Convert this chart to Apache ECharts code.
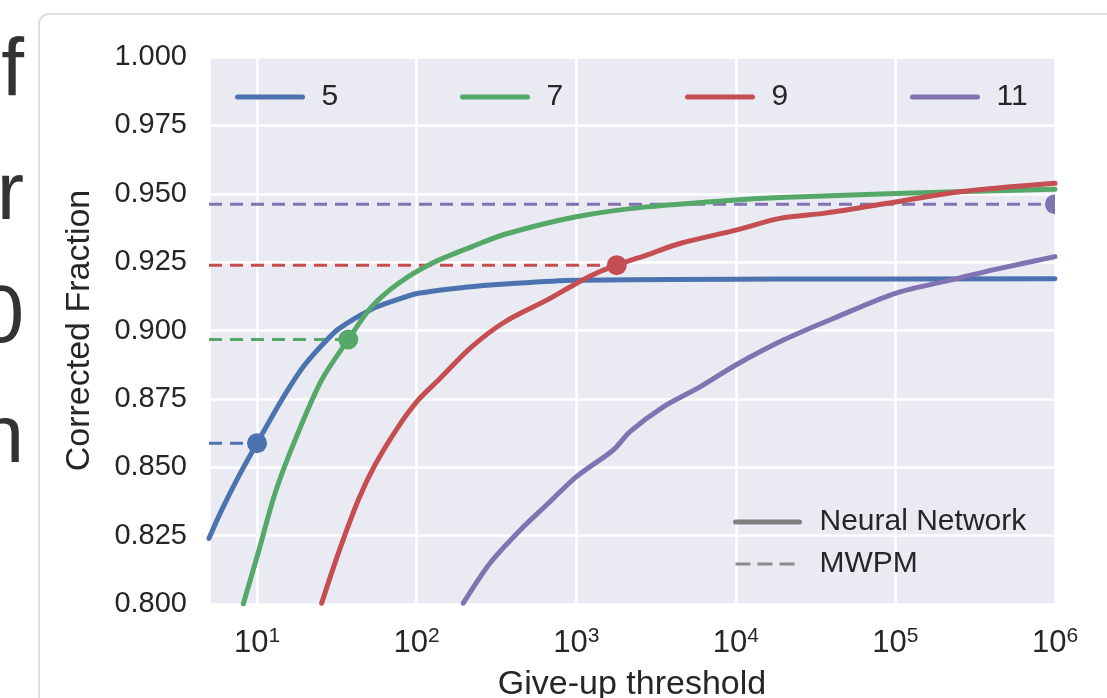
<!DOCTYPE html>
<html>
<head>
<meta charset="utf-8">
<script src="https://cdn.jsdelivr.net/npm/echarts@6/dist/echarts.min.js"></script>
<style>
html, body { margin: 0; padding: 0; background: #fff; }
#chart { width: 1107px; height: 698px; }
</style>
</head>
<body>
<div id="chart"></div>
<script>
// code distances and seaborn "deep" colours
var sizes = ['5', '7', '9', '11'];
var colors = ['#4C72B0', '#55A868', '#C44E52', '#8172B2'];

// neural network: give-up threshold -> corrected fraction
var thr5 = [5, 6.01, 7.64, 10, 13.9, 16.9, 20, 25.4, 32.3, 52.3, 73.3, 102.5, 201, 358, 1000, 18900, 1e6];
var nn5  = [0.824, 0.8344, 0.8465, 0.8588, 0.8735, 0.8815, 0.8876, 0.8945, 0.9005, 0.9078, 0.9110, 0.9136, 0.9158, 0.9170, 0.9184, 0.9188, 0.9189];

var thr7 = [8.2, 10.2, 12.97, 17.3, 25.4, 37.3, 52.3, 76.7, 124, 221, 358, 1000, 2765, 1e4, 18900, 1e5, 1e6];
var nn7  = [0.800, 0.8190, 0.8405, 0.8599, 0.8819, 0.8967, 0.9087, 0.9172, 0.9245, 0.9306, 0.9352, 0.9416, 0.9452, 0.9477, 0.9486, 0.9501, 0.9516];

var thr9 = [25.4, 32.3, 43.1, 54.8, 76.7, 102.5, 137, 221, 358, 653, 1000, 1343, 1795, 2765, 4467, 1e4, 18900, 37150, 1e5, 254000, 1e6];
var nn9  = [0.8003, 0.8185, 0.8380, 0.8508, 0.8648, 0.8746, 0.8819, 0.8940, 0.9032, 0.9111, 0.9172, 0.9210, 0.9239, 0.9276, 0.9318, 0.9367, 0.9410, 0.9430, 0.9470, 0.9507, 0.9538];

var thr11 = [196, 288, 445, 685, 1000, 1708, 2173, 3516, 5970, 1e4, 19860, 40800, 1e5, 219800, 452000, 1e6];
var nn11  = [0.8003, 0.8149, 0.8270, 0.8374, 0.8465, 0.8563, 0.8630, 0.8721, 0.8794, 0.8874, 0.8965, 0.9044, 0.9136, 0.9184, 0.9227, 0.9270];

// MWPM level and the threshold where it is marked
var mwpm    = [0.8588, 0.8967, 0.9239, 0.9462];
var mwpmThr = [10, 37.3, 1795, 1e6];

var xMin = 5, xMax = 1e6;
var yMin = 0.8, yMax = 1.0, yStep = 0.025;

var thrs = [thr5, thr7, thr9, thr11];
var nns = [nn5, nn7, nn9, nn11];

var font = 'Liberation Sans';
var ink = '#262626';

var series = [];
// dashed MWPM levels, under the curves
sizes.forEach(function (s, i) {
    series.push({
        name: 'MWPM ' + s,
        type: 'line',
        symbol: 'none',
        z: 2,
        color: colors[i],
        lineStyle: { width: 3, type: [13, 8], color: colors[i] },
        data: [[xMin, mwpm[i]], [mwpmThr[i], mwpm[i]]]
    });
});
// neural network curves
sizes.forEach(function (s, i) {
    series.push({
        name: s,
        type: 'line',
        symbol: 'none',
        smooth: 0.3,
        z: 3,
        color: colors[i],
        lineStyle: { width: 5, color: colors[i], cap: 'round', join: 'round' },
        data: thrs[i].map(function (t, k) { return [t, nns[i][k]]; })
    });
});
// dots where MWPM is marked
series.push({
    name: 'dots',
    type: 'custom',
    clip: true,
    z: 4,
    data: mwpm.map(function (v, i) { return [mwpmThr[i], v, i]; }),
    renderItem: function (params, api) {
        var p = api.coord([api.value(0), api.value(1)]);
        return {
            type: 'circle',
            shape: { cx: p[0], cy: p[1], r: 10 },
            style: { fill: colors[api.value(2)] }
        };
    }
});
// style legend entries
series.push({
    name: 'Neural Network', type: 'line', symbol: 'none', color: '#808080',
    lineStyle: { width: 5, color: '#808080', cap: 'round' }, data: []
});
series.push({
    name: 'MWPM', type: 'line', symbol: 'none', color: '#8c8c8c',
    lineStyle: { width: 3, color: '#8c8c8c', type: [15, 7] }, data: []
});

var legends = sizes.map(function (s, i) {
    return {
        data: [{ name: s, lineStyle: { width: 5 } }],
        left: 235 + 225 * i,
        top: 82,
        padding: 0,
        itemWidth: 65,
        itemHeight: 5,
        itemStyle: { opacity: 0 },
        textStyle: { fontSize: 30, color: ink, fontFamily: font, padding: [0, 0, 0, 14] }
    };
});
legends.push({
    orient: 'vertical',
    left: 733,
    top: 507,
    padding: 0,
    itemWidth: 64,
    itemHeight: 5,
    itemGap: 12,
    itemStyle: { opacity: 0 },
    data: [
        { name: 'Neural Network', lineStyle: { width: 5 } },
        { name: 'MWPM', lineStyle: { width: 3, type: [15, 7] } }
    ],
    textStyle: { fontSize: 30, color: ink, fontFamily: font, padding: [0, 0, 0, 15] }
});

var chart = echarts.init(document.getElementById('chart'));
chart.setOption({
    animation: false,
    backgroundColor: '#fff',
    textStyle: { fontFamily: font },
    grid: {
        left: 209, right: 52, top: 57, bottom: 94,
        outerBoundsMode: 'none',
        containLabel: false,
        show: true, backgroundColor: '#EAEAF2', borderWidth: 0
    },
    legend: legends,
    xAxis: {
        type: 'log',
        logBase: 10,
        min: xMin,
        max: xMax,
        name: 'Give-up threshold',
        nameLocation: 'middle',
        nameGap: 64,
        nameTextStyle: { fontSize: 34, color: ink, fontFamily: font },
        axisLine: { show: false },
        axisTick: { show: false },
        minorTick: { show: false },
        splitLine: { show: true, lineStyle: { color: '#fff', width: 2.5 } },
        axisLabel: {
            margin: 22,
            color: ink,
            formatter: function (v) {
                var e = Math.log10(v);
                var r = Math.round(e);
                if (Math.abs(e - r) > 1e-6) return '';
                return '{b|10}{s|' + r + '}';
            },
            rich: {
                b: { fontSize: 31, color: ink, fontFamily: font, lineHeight: 34 },
                s: { fontSize: 21, color: ink, fontFamily: font, verticalAlign: 'top', lineHeight: 21 }
            }
        }
    },
    yAxis: {
        type: 'value',
        min: yMin,
        max: yMax,
        interval: yStep,
        name: 'Corrected Fraction',
        nameLocation: 'middle',
        nameGap: 112,
        nameTextStyle: { fontSize: 34, color: ink, fontFamily: font },
        axisLine: { show: false },
        axisTick: { show: false },
        splitLine: { show: true, lineStyle: { color: '#fff', width: 2.5 } },
        axisLabel: {
            margin: 22,
            fontSize: 29,
            color: ink,
            formatter: function (v) { return v.toFixed(3); }
        }
    },
    graphic: [
        {
            type: 'rect', z: -10,
            shape: { x: 39, y: 14, width: 1120, height: 720, r: 10 },
            style: { fill: 'none', stroke: '#dedede', lineWidth: 2 }
        },
        { type: 'text', style: { text: 'f', x: 24, y: 113, textAlign: 'right', textVerticalAlign: 'bottom', fontSize: 82, fill: '#333', fontFamily: font } },
        { type: 'text', style: { text: 'r', x: 24, y: 237, textAlign: 'right', textVerticalAlign: 'bottom', fontSize: 82, fill: '#333', fontFamily: font } },
        { type: 'text', style: { text: '0', x: 24, y: 360, textAlign: 'right', textVerticalAlign: 'bottom', fontSize: 82, fill: '#333', fontFamily: font } },
        { type: 'text', style: { text: 'n', x: 24, y: 480, textAlign: 'right', textVerticalAlign: 'bottom', fontSize: 82, fill: '#333', fontFamily: font } }
    ],
    series: series
});
</script>
</body>
</html>
